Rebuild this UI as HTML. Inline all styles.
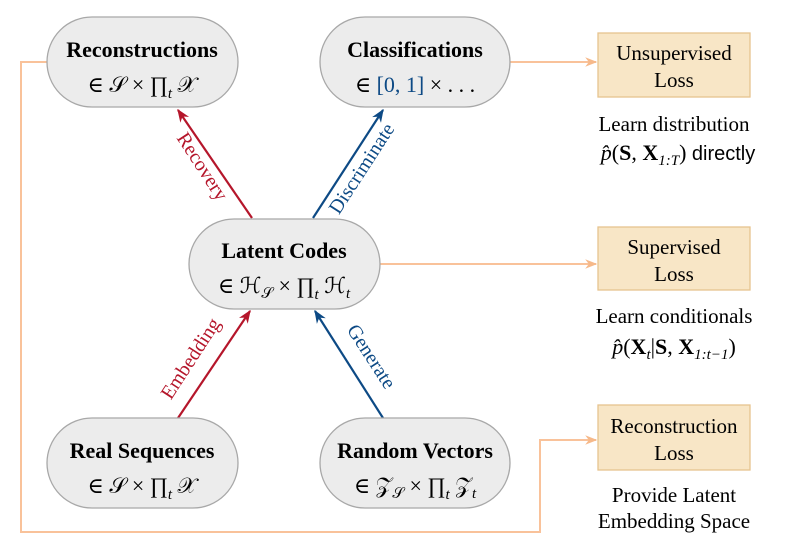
<!DOCTYPE html>
<html><head><meta charset="utf-8"><style>
body{margin:0;background:#fff;}
svg{display:block;font-family:"Liberation Serif","DejaVu Serif",serif;}
</style></head><body>
<svg width="800" height="555" viewBox="0 0 800 555">
<defs>
<marker id="ar" viewBox="0 0 10 10" refX="9" refY="5" markerWidth="6" markerHeight="6" orient="auto"><path d="M0,1 L10,5 L0,9 L3,5z" fill="#b5162b"/></marker>
<marker id="ab" viewBox="0 0 10 10" refX="9" refY="5" markerWidth="6" markerHeight="6" orient="auto"><path d="M0,1 L10,5 L0,9 L3,5z" fill="#0d4a85"/></marker>
<marker id="ao" viewBox="0 0 10 10" refX="9" refY="5" markerWidth="6" markerHeight="6" orient="auto"><path d="M0,1 L10,5 L0,9 L3,5z" fill="#f6b98a"/></marker>
</defs>
<g stroke="#f9c29a" stroke-width="2" fill="none">
<polyline points="47,62 21,62 21,532 540,532 540,440 596,440" marker-end="url(#ao)"/>
<line x1="510" y1="62" x2="596" y2="62" marker-end="url(#ao)"/>
<line x1="380" y1="264" x2="596" y2="264" marker-end="url(#ao)"/>
</g>
<g stroke-width="2.2">
<line x1="252" y1="218" x2="178" y2="110" stroke="#b5162b" marker-end="url(#ar)"/>
<line x1="313" y1="218" x2="383" y2="110" stroke="#0d4a85" marker-end="url(#ab)"/>
<line x1="178" y1="418" x2="250" y2="311" stroke="#b5162b" marker-end="url(#ar)"/>
<line x1="383" y1="418" x2="315" y2="311" stroke="#0d4a85" marker-end="url(#ab)"/>
</g>
<g font-size="20">
<text transform="translate(197,170) rotate(57)" text-anchor="middle" fill="#b5162b">Recovery</text>
<text transform="translate(367,172) rotate(-57)" text-anchor="middle" fill="#0d4a85">Discriminate</text>
<text transform="translate(196,362) rotate(-57)" text-anchor="middle" fill="#b5162b">Embedding</text>
<text transform="translate(366,360) rotate(57)" text-anchor="middle" fill="#0d4a85">Generate</text>
</g>
<g fill="#ececec" stroke="#a8a8a8" stroke-width="1.3">
<rect x="47" y="17" width="191" height="90" rx="45"/>
<rect x="320" y="17" width="190" height="90" rx="45"/>
<rect x="189" y="219" width="191" height="90" rx="45"/>
<rect x="47" y="418" width="191" height="90" rx="45"/>
<rect x="320" y="418" width="190" height="90" rx="45"/>
</g>
<g text-anchor="middle" fill="#000" font-size="22">
<text x="142" y="57" font-weight="bold">Reconstructions</text>
<text x="142" y="92">∈ 𝒮 × ∏<tspan font-size="15" font-style="italic" dy="6">t</tspan><tspan dy="-6"> 𝒳</tspan></text>
<text x="415" y="57" font-weight="bold">Classifications</text>
<text x="415" y="92">∈ <tspan fill="#0d4a85">[0, 1]</tspan> × . . .</text>
<text x="284" y="258" font-weight="bold">Latent Codes</text>
<text x="284" y="293">∈ ℋ<tspan font-size="15" dy="5">𝒮</tspan><tspan dy="-5"> × ∏</tspan><tspan font-size="15" font-style="italic" dy="6">t</tspan><tspan dy="-6"> ℋ</tspan><tspan font-size="15" font-style="italic" dy="5">t</tspan></text>
<text x="142" y="458" font-weight="bold">Real Sequences</text>
<text x="142" y="493">∈ 𝒮 × ∏<tspan font-size="15" font-style="italic" dy="6">t</tspan><tspan dy="-6"> 𝒳</tspan></text>
<text x="415" y="458" font-weight="bold">Random Vectors</text>
<text x="415" y="493">∈ 𝒵<tspan font-size="15" dy="5">𝒮</tspan><tspan dy="-5"> × ∏</tspan><tspan font-size="15" font-style="italic" dy="6">t</tspan><tspan dy="-6"> 𝒵</tspan><tspan font-size="15" font-style="italic" dy="5">t</tspan></text>
</g>
<g fill="#f8e6c6" stroke="#e6c48f" stroke-width="1.3">
<rect x="598" y="33" width="152" height="64"/>
<rect x="598" y="227" width="152" height="63"/>
<rect x="598" y="405" width="152" height="65"/>
</g>
<g text-anchor="middle" font-size="21" fill="#000">
<text x="674" y="60">Unsupervised</text><text x="674" y="87">Loss</text>
<text x="674" y="254">Supervised</text><text x="674" y="281">Loss</text>
<text x="674" y="433">Reconstruction</text><text x="674" y="460">Loss</text>
<text x="674" y="131">Learn distribution</text>
<text x="678" y="160" font-size="22"><tspan font-style="italic">p̂</tspan>(<tspan font-weight="bold">S</tspan>, <tspan font-weight="bold">X</tspan><tspan font-size="15" dy="5" font-style="italic">1:T</tspan><tspan dy="-5">) </tspan><tspan font-family="Liberation Sans" font-size="20">directly</tspan></text>
<text x="674" y="323">Learn conditionals</text>
<text x="674" y="354" font-size="22"><tspan font-style="italic">p̂</tspan>(<tspan font-weight="bold">X</tspan><tspan font-size="15" dy="5" font-style="italic">t</tspan><tspan dy="-5">|</tspan><tspan font-weight="bold">S</tspan>, <tspan font-weight="bold">X</tspan><tspan font-size="15" dy="5" font-style="italic">1:t−1</tspan><tspan dy="-5">)</tspan></text>
<text x="674" y="502">Provide Latent</text>
<text x="674" y="528">Embedding Space</text>
</g>
</svg>
</body></html>
